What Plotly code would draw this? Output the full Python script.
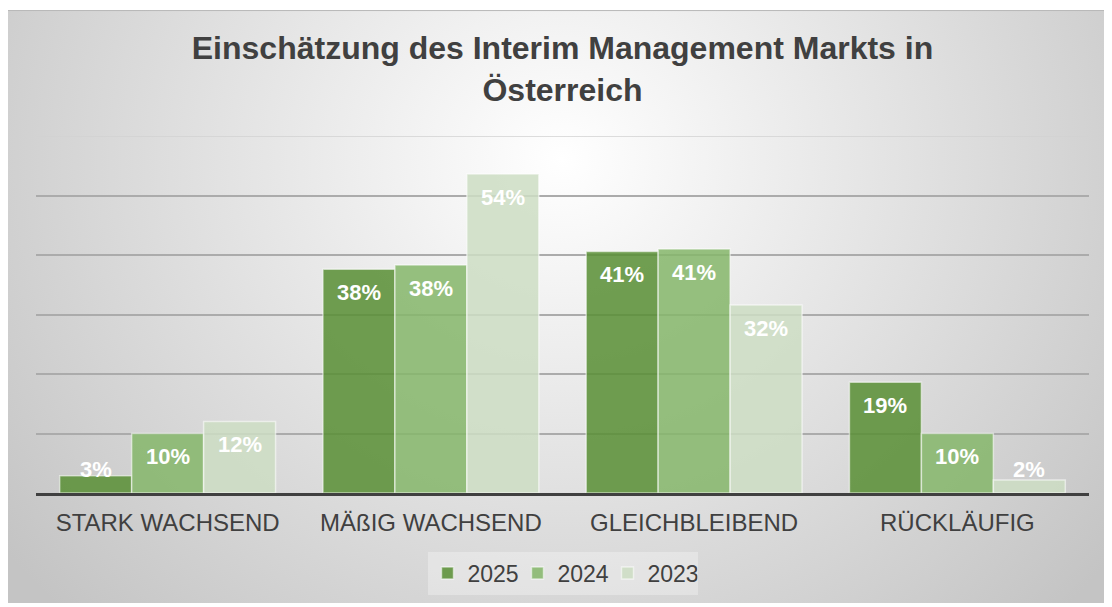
import base64
import plotly.graph_objects as go

# ---- data ----
categories = ["STARK WACHSEND", "MÄßIG WACHSEND", "GLEICHBLEIBEND", "RÜCKLÄUFIG"]
years = ["2025", "2024", "2023"]
values_2025 = [2.9, 37.6, 40.6, 18.6]
values_2024 = [10.0, 38.3, 41.0, 10.0]
values_2023 = [12.0, 53.6, 31.6, 2.2]
series = [values_2025, values_2024, values_2023]
colors = ["rgba(88,142,52,0.85)", "rgba(133,182,106,0.85)", "rgba(204,221,195,0.85)"]
y_max = 60

# figure sits at (8,8) inside the page (default body margin)
W, H = 1104, 599
ML, MR, MT, MB = 28, 23, 128, 111
BARGAP = 0.18
plot_w = W - ML - MR
plot_h = H - MT - MB

fig = go.Figure()
xpos = list(range(len(categories)))
for name, vals, col in zip(years, series, colors):
    fig.add_trace(go.Bar(
        x=xpos, y=vals, name=name,
        marker=dict(color=col, line=dict(color="rgba(255,255,255,0.55)", width=1.5)),
        hoverinfo="skip",
    ))

# data labels (inside end; small bars keep the label inside the plot)
n = len(series)
bw = (1 - BARGAP) / n
pad = 3.9
annotations = []
for j, vals in enumerate(series):
    for i, v in enumerate(vals):
        annotations.append(dict(
            x=i + (j - (n - 1) / 2) * bw, y=max(v - pad, pad), xref="x", yref="y",
            text=f"{round(v)}%", showarrow=False, yanchor="middle",
            font=dict(family="Liberation Sans, Arial", size=22, color="white", weight="bold"),
        ))

# background: radial gradient panel as an SVG image
pw, ph = 1105, 598
svg = f'''<svg xmlns="http://www.w3.org/2000/svg" width="{pw}" height="{ph}" viewBox="0 0 {pw} {ph}">
<defs><radialGradient id="g" gradientUnits="userSpaceOnUse" cx="555" cy="150" r="700"
 gradientTransform="translate(555 150) scale(1 0.93) translate(-555 -150)">
<stop offset="0" stop-color="#ffffff"/><stop offset="1" stop-color="#c4c4c4"/></radialGradient></defs>
<rect x="0" y="0" width="{pw}" height="{ph}" fill="url(#g)"/>
<rect x="0.5" y="0.5" width="{pw-1}" height="{ph+5}" fill="none" stroke="#b8b8b8" stroke-width="1"/>
</svg>'''
src = "data:image/svg+xml;base64," + base64.b64encode(svg.encode()).decode()
img = dict(
    source=src, xref="paper", yref="paper",
    x=(-1 - ML) / plot_w, y=(H - MB - 1) / plot_h,
    sizex=pw / plot_w, sizey=ph / plot_h,
    xanchor="left", yanchor="top", sizing="stretch", layer="below",
)

fig.update_layout(
    width=W, height=H,
    margin=dict(l=ML, r=MR, t=MT, b=MB, pad=0),
    paper_bgcolor="white", plot_bgcolor="rgba(0,0,0,0)",
    barmode="group", bargap=BARGAP, bargroupgap=0,
    images=[img],
    annotations=annotations,
    shapes=[dict(type="line", xref="paper", x0=0, x1=1, yref="y", y0=y_max, y1=y_max,
                 line=dict(color="#d2d2d2", width=1.5), layer="below")],
    title=dict(
        text="Einschätzung des Interim Management Markts in<br>Österreich",
        x=(ML + plot_w / 2) / W, xanchor="center",
        y=1 - 51 / H, yanchor="top",
        font=dict(family="Liberation Sans, Arial", size=32, color="#404040", weight="bold"),
    ),
    font=dict(family="Liberation Sans, Arial", color="#404040"),
    legend=dict(
        orientation="h", x=0.5, xanchor="center", y=(H - MB - 547) / plot_h, yanchor="top",
        bgcolor="rgba(255,255,255,0.3)", font=dict(size=23, color="#404040"),
        entrywidth=45, entrywidthmode="pixels",
        itemclick=False, itemdoubleclick=False,
    ),
    showlegend=True,
)
fig.update_xaxes(
    tickvals=xpos, ticktext=categories, range=[-0.5, len(categories) - 0.5],
    showline=True, linecolor="#404040", linewidth=3, showgrid=False, ticks="",
    tickfont=dict(size=24, color="#404040"), ticklabelstandoff=6,
)
fig.update_yaxes(
    range=[0, y_max], dtick=10, showticklabels=False, showgrid=True,
    gridcolor="#ababab", gridwidth=1.5, zeroline=False,
)

fig.write_html("out.html")
